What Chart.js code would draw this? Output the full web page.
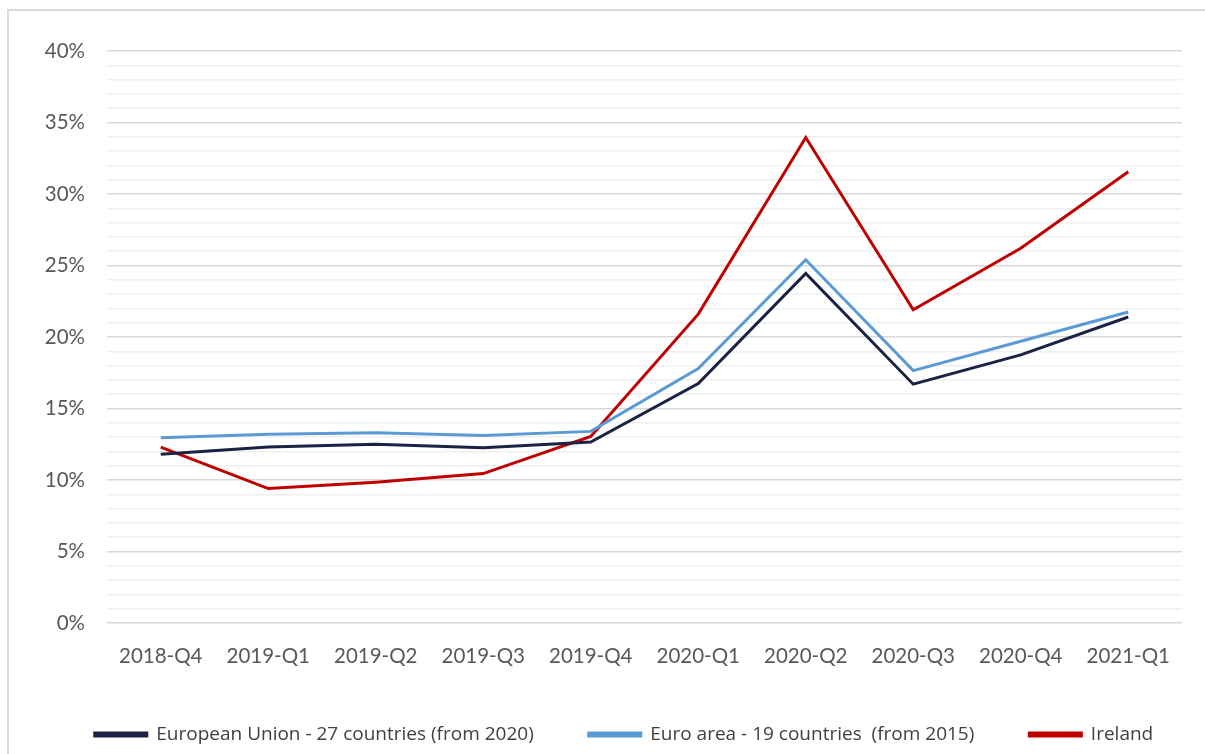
<!DOCTYPE html>
<html>
<head>
<meta charset="utf-8">
<script src="https://cdn.jsdelivr.net/npm/chart.js@4.4.1/dist/chart.umd.min.js"></script>
<style>
    html, body { margin: 0; padding: 0; background: #ffffff; overflow: hidden; }
    #frame {
        position: absolute; left: 7px; top: 9px; width: 1220px; height: 770px;
        border: 2px solid #d9d9d9; box-sizing: border-box;
    }
    #wrap { position: absolute; left: 0; top: 0; width: 1205px; height: 754px; }
</style>
</head>
<body>
<div id="frame"></div>
<div id="wrap"><canvas id="chart-rate"></canvas></div>
<script>
const quarters = ['2018-Q4', '2019-Q1', '2019-Q2', '2019-Q3', '2019-Q4',
    '2020-Q1', '2020-Q2', '2020-Q3', '2020-Q4', '2021-Q1'];

const euValues = [11.8, 12.3, 12.5, 12.25, 12.65, 16.75, 24.45, 16.7, 18.75, 21.4];
const euroAreaValues = [12.95, 13.2, 13.3, 13.12, 13.4, 17.8, 25.4, 17.65, 19.7, 21.75];
const irelandValues = [12.3, 9.4, 9.85, 10.45, 13.05, 21.6, 33.95, 21.9, 26.2, 31.55];

const textColor = '#595959';
const fontFamily = 'Lato, "Open Sans", sans-serif';
const legendFont = '"Open Sans", Lato, sans-serif';

function pct(v) {
    return v % 5 === 0 ? v + '%' : '';
}

// legend sits a little right of centre in the original
const legendShift = {
    id: 'legendShift',
    afterLayout(chart) {
        chart.legend.left += 33;
        chart.legend.right += 33;
    },
};

new Chart(document.getElementById('chart-rate'), {
    type: 'line',
    data: {
        labels: quarters,
        datasets: [
            {
                label: 'European Union - 27 countries (from 2020)',
                data: euValues,
                borderColor: '#1c2244',
                backgroundColor: '#1c2244',
                borderWidth: 3,
                pointRadius: 0,
                tension: 0,
                fill: false,
            },
            {
                label: 'Euro area - 19 countries  (from 2015)',
                data: euroAreaValues,
                borderColor: '#5b9bd5',
                backgroundColor: '#5b9bd5',
                borderWidth: 3,
                pointRadius: 0,
                tension: 0,
                fill: false,
            },
            {
                label: 'Ireland',
                data: irelandValues,
                borderColor: '#c00000',
                backgroundColor: '#c00000',
                borderWidth: 3,
                pointRadius: 0,
                tension: 0,
                fill: false,
            },
        ],
    },
    plugins: [legendShift],
    options: {
        responsive: true,
        maintainAspectRatio: false,
        animation: false,
        layout: { padding: { top: 51, right: 23, left: 0, bottom: 0 } },
        plugins: {
            legend: {
                display: true,
                position: 'bottom',
                labels: {
                    color: '#404040',
                    boxWidth: 52,
                    boxHeight: 3,
                    padding: 55,
                    font: { family: legendFont, size: 19 },
                },
            },
            tooltip: { enabled: false },
        },
        scales: {
            x: {
                offset: true,
                border: { display: false },
                grid: { display: false },
                ticks: {
                    color: textColor,
                    padding: 13,
                    maxRotation: 0,
                    font: { family: fontFamily, size: 20.5 },
                },
                afterFit: scale => { scale.height = 47; },
            },
            y: {
                min: 0,
                max: 40,
                border: { display: false },
                grid: {
                    color: ctx => ctx.tick && ctx.tick.value % 5 === 0 ? '#d9d9d9' : '#f0f0f0',
                    lineWidth: 1.5,
                    drawTicks: false,
                },
                ticks: {
                    stepSize: 1,
                    autoSkip: false,
                    color: textColor,
                    padding: 22,
                    font: { family: fontFamily, size: 20.5 },
                    callback: v => pct(v),
                },
                afterFit: scale => { scale.width = 107; },
            },
        },
    },
});
</script>
</body>
</html>
